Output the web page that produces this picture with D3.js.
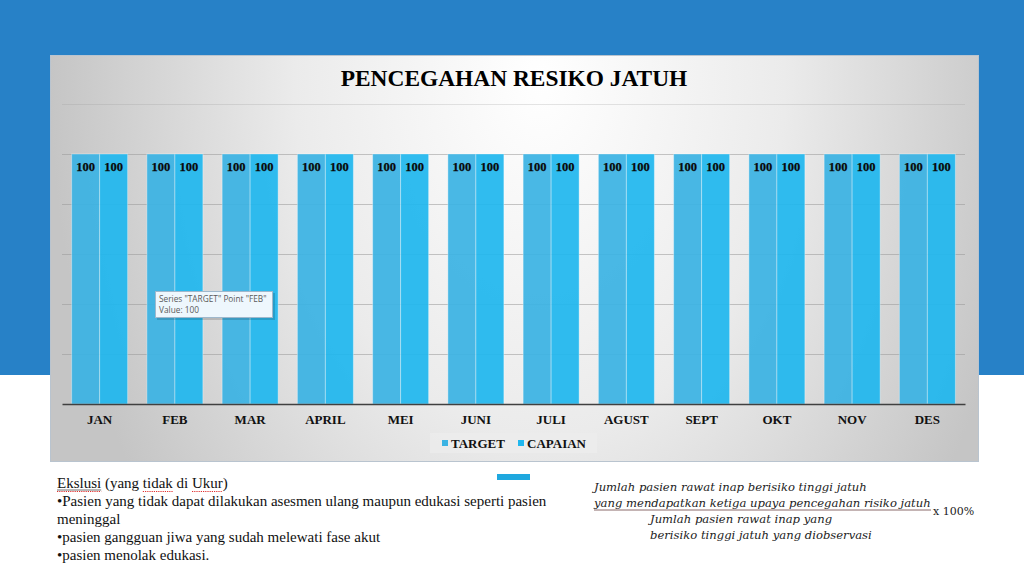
<!DOCTYPE html>
<html>
<head>
<meta charset="utf-8">
<script src="https://cdn.jsdelivr.net/npm/d3@7"></script>
<style>
  body { margin: 0; overflow: hidden; background: #fff; }
</style>
</head>
<body>
<script>
var months = ["JAN", "FEB", "MAR", "APRIL", "MEI", "JUNI", "JULI", "AGUST", "SEPT", "OKT", "NOV", "DES"];
var series = ["TARGET", "CAPAIAN"];
var target = [100, 100, 100, 100, 100, 100, 100, 100, 100, 100, 100, 100];
var capaian = [100, 100, 100, 100, 100, 100, 100, 100, 100, 100, 100, 100];
var yTicks = [0, 20, 40, 60, 80, 100, 120];
var colors = ["#3bb3e3", "#20b7ee"];
var notes = [
    "Ekslusi (yang tidak di Ukur)",
    "\u2022Pasien yang tidak dapat dilakukan asesmen ulang maupun edukasi seperti pasien",
    "meninggal",
    "\u2022pasien gangguan jiwa yang sudah melewati fase akut",
    "\u2022pasien menolak edukasi."
];
var misspelled = ["Ekslusi", "tidak", "Ukur"];
var formulaTop = ["Jumlah pasien rawat inap berisiko tinggi jatuh",
                  "yang mendapatkan ketiga upaya pencegahan risiko jatuh"];
var formulaBottom = ["Jumlah pasien rawat inap yang",
                     "berisiko tinggi jatuh yang diobservasi"];

var W = 1024, H = 573;
var serif = "'Liberation Serif', 'Times New Roman', serif";

var data = months.map((m, i) => ({ month: m, values: [target[i], capaian[i]] }));

var svg = d3.select("body").append("svg")
    .attr("width", W)
    .attr("height", H);

// slide background
svg.append("rect").attr("width", W).attr("height", 375).attr("fill", "#2781c7");

var defs = svg.append("defs");
var grad = defs.append("radialGradient")
    .attr("id", "panelBg")
    .attr("gradientUnits", "userSpaceOnUse")
    .attr("cx", 540).attr("cy", 80).attr("r", 490)
    .attr("gradientTransform", "translate(540,80) scale(1,1.45) translate(-540,-80)");
grad.append("stop").attr("offset", "0").attr("stop-color", "#ffffff");
grad.append("stop").attr("offset", "0.5").attr("stop-color", "#ebebeb");
grad.append("stop").attr("offset", "1").attr("stop-color", "#c5c5c5");

var panel = { x: 50, y: 55, w: 928, h: 406 };
svg.append("rect")
    .attr("x", panel.x + 0.5).attr("y", panel.y + 0.5)
    .attr("width", panel.w).attr("height", panel.h)
    .attr("fill", "url(#panelBg)")
    .attr("stroke", "#b9c4cf");

var plot = { left: 62, right: 965, top: 104, bottom: 404 };

var x = d3.scaleBand()
    .domain(months)
    .range([plot.left, plot.right])
    .paddingInner(0.256)
    .paddingOuter(0.128);

var x1 = d3.scaleBand()
    .domain(series)
    .range([0, x.bandwidth()]);

var y = d3.scaleLinear()
    .domain([0, 120])
    .range([plot.bottom, plot.top]);

// gridlines
svg.append("g").selectAll("line")
    .data(yTicks.slice(1))
    .enter().append("line")
    .attr("x1", plot.left).attr("x2", plot.right)
    .attr("y1", (d) => y(d) + 0.5).attr("y2", (d) => y(d) + 0.5)
    .attr("stroke", "#999")
    .attr("stroke-opacity", (d) => d == 120 ? 0.25 : 0.55);

// bars
var groups = svg.append("g").selectAll("g")
    .data(data)
    .enter().append("g")
    .attr("transform", (d) => "translate(" + x(d.month) + ",0)");

groups.selectAll("rect")
    .data((d) => d.values.map((v, i) => ({ s: series[i], v: v, i: i })))
    .enter().append("rect")
    .attr("x", (d) => x1(d.s))
    .attr("y", (d) => y(d.v))
    .attr("width", x1.bandwidth())
    .attr("height", (d) => y(0) - y(d.v))
    .attr("fill", (d) => colors[d.i])
    .attr("fill-opacity", 0.93)
    .attr("stroke", "#ffffff")
    .attr("stroke-opacity", 0.35)
    .attr("stroke-width", 1);

groups.selectAll("text")
    .data((d) => d.values.map((v, i) => ({ s: series[i], v: v })))
    .enter().append("text")
    .attr("x", (d) => x1(d.s) + x1.bandwidth() / 2)
    .attr("y", (d) => y(d.v) + 17)
    .attr("text-anchor", "middle")
    .attr("font-family", serif)
    .attr("font-weight", "bold")
    .attr("font-size", "12.5px")
    .attr("fill", "#0a0a0a")
    .attr("stroke", "#0a0a0a")
    .attr("stroke-width", 0.25)
    .text((d) => d.v);

// x axis
var xAxis = d3.axisBottom(x).tickSize(0).tickPadding(11);
var gx = svg.append("g")
    .attr("transform", "translate(0," + plot.bottom + ")")
    .call(xAxis);
gx.select(".domain").attr("stroke", "#404040").attr("stroke-width", 1.5);
gx.selectAll("text")
    .attr("font-family", serif)
    .attr("font-weight", "bold")
    .attr("font-size", "13px")
    .attr("fill", "#111");

// title
svg.append("text")
    .attr("x", 514).attr("y", 86)
    .attr("text-anchor", "middle")
    .attr("font-family", serif)
    .attr("font-weight", "bold")
    .attr("font-size", "23.4px")
    .attr("fill", "#000")
    .text("PENCEGAHAN RESIKO JATUH");

// legend
var legend = svg.append("g");
legend.append("rect")
    .attr("x", 430).attr("y", 433).attr("width", 167).attr("height", 20)
    .attr("fill", "#ececec").attr("fill-opacity", 0.8);
var legendX = [442, 518];
series.forEach((s, i) => {
    legend.append("rect")
        .attr("x", legendX[i]).attr("y", 440)
        .attr("width", 6).attr("height", 6)
        .attr("fill", colors[i]);
    legend.append("text")
        .attr("x", legendX[i] + 9).attr("y", 448)
        .attr("font-family", serif)
        .attr("font-weight", "bold")
        .attr("font-size", "13px")
        .attr("fill", "#111")
        .text(s);
});

// tooltip
var tip = svg.append("g").attr("transform", "translate(155,291)");
tip.append("rect")
    .attr("x", 2).attr("y", 2).attr("width", 118).attr("height", 27)
    .attr("fill", "#000").attr("fill-opacity", 0.15);
tip.append("rect")
    .attr("x", 0.5).attr("y", 0.5).attr("width", 117).attr("height", 26)
    .attr("fill", "#eef7fd").attr("stroke", "#9fb8cc");
tip.append("text")
    .attr("x", 4).attr("y", 10.5)
    .attr("font-family", "'Open Sans', 'Noto Sans', sans-serif")
    .attr("font-size", "8.3px").attr("fill", "#5a5a5a")
    .text('Series "TARGET" Point "FEB"');
tip.append("text")
    .attr("x", 4).attr("y", 22)
    .attr("font-family", "'Open Sans', 'Noto Sans', sans-serif")
    .attr("font-size", "8.3px").attr("fill", "#5a5a5a")
    .text("Value: 100");

// small blue mark under chart
svg.append("rect")
    .attr("x", 497).attr("y", 474).attr("width", 33).attr("height", 6)
    .attr("fill", "#1fa8df");

// notes text
var noteG = svg.append("g");
notes.forEach((t, i) => {
    noteG.append("text")
        .attr("x", 57).attr("y", 488 + i * 18)
        .attr("font-family", serif)
        .attr("font-size", "15px")
        .attr("fill", "#111")
        .text(t);
});
// underline on "Ekslusi" and spell-check marks on first line
var firstLine = noteG.select("text").node();
misspelled.forEach((w, k) => {
    var idx = notes[0].indexOf(w);
    var x0 = 57 + (idx > 0 ? firstLine.getSubStringLength(0, idx) : 0);
    var x1w = x0 + firstLine.getSubStringLength(idx, w.length);
    if (k == 0) {
        noteG.append("line")
            .attr("x1", x0).attr("x2", x1w)
            .attr("y1", 490).attr("y2", 490)
            .attr("stroke", "#333").attr("stroke-width", 0.7);
    }
    noteG.append("line")
        .attr("x1", x0).attr("x2", x1w)
        .attr("y1", 491.5).attr("y2", 491.5)
        .attr("stroke", "#e03030")
        .attr("stroke-width", 1.2)
        .attr("stroke-dasharray", "1.2,1");
});

// formula
var fG = svg.append("g")
    .attr("font-family", "'DejaVu Serif', serif")
    .attr("font-style", "italic")
    .attr("font-size", "11.6px")
    .attr("fill", "#222");
fG.append("text").attr("x", 594).attr("y", 491).text(formulaTop[0]);
fG.append("text").attr("x", 594).attr("y", 507).text(formulaTop[1]);
fG.append("line")
    .attr("x1", 594).attr("x2", 931)
    .attr("y1", 510).attr("y2", 510)
    .attr("stroke", "#8a6a6a").attr("stroke-width", 1);
fG.append("text").attr("x", 650).attr("y", 523).text(formulaBottom[0]);
fG.append("text").attr("x", 650).attr("y", 539).text(formulaBottom[1]);
svg.append("text")
    .attr("x", 933).attr("y", 515)
    .attr("font-family", "'DejaVu Serif', serif")
    .attr("font-size", "11px")
    .attr("fill", "#222")
    .text("x 100%");
</script>
</body>
</html>
